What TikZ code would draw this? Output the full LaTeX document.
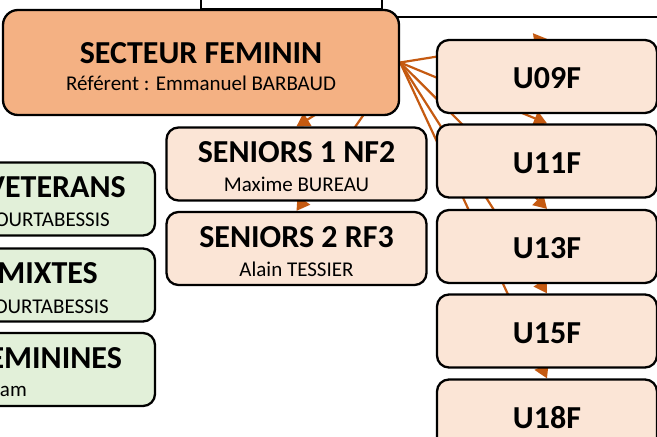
\documentclass[tikz,border=0pt]{standalone}
\usepackage{fontspec}
\setmainfont{Carlito}
\usetikzlibrary{arrows.meta,backgrounds}
\definecolor{secteurorange}{HTML}{F4B183}
\definecolor{equipeorange}{HTML}{FBE5D6}
\definecolor{loisirvert}{HTML}{E2F0D9}
\definecolor{lienorange}{HTML}{C55A11}
\newcommand{\titre}{\fontsize{32}{32}\selectfont\bfseries}
\newcommand{\nomref}{\fontsize{21}{29}\selectfont}
\newcommand{\cale}[1]{\rule{0pt}{#1}}

\begin{document}
\begin{tikzpicture}[x=1pt, y=-1pt,
  boite/.style={draw, line width=2.3pt, rounded corners=12pt, align=center, inner sep=0pt, font=\nomref},
  equipe/.style={boite, fill=equipeorange, minimum width=260pt, minimum height=73pt},
  categorie/.style={boite, fill=equipeorange, minimum width=220pt, minimum height=73pt, text height=25pt},
  loisir/.style={boite, fill=loisirvert, minimum width=300pt, minimum height=73pt},
  coupe/.style={anchor=base east, inner sep=0pt},
  haut/.style={draw, line width=1.3pt, fill=white},
  lien/.style={line width=2.2pt, lienorange, -{Triangle[length=13pt,width=15pt]}}]
  \useasboundingbox (0,0) rectangle (657,437);
  \clip (0,0) rectangle (657,437);
  % boxes above, cut off
  \draw[haut] (382,-30) rectangle (720,17);
  \draw[haut] (201,-30) rectangle (382,9);
  % secteur
  \node[boite, fill=secteurorange, rounded corners=15pt, minimum width=396pt, minimum height=105pt] (secteur) at (201,62.5)
    {{\titre\cale{29pt}SECTEUR FEMININ}\\[-2pt]Référent : Emmanuel BARBAUD};
  % seniors
  \node[equipe] (seniorsA) at (296.5,164) {{\titre\cale{27pt}SENIORS 1 NF2}\\Maxime BUREAU};
  \node[equipe] (seniorsB) at (296.5,248.5) {{\titre\cale{27pt}SENIORS 2 RF3}\\Alain TESSIER};
  % jeunes
  \node[categorie] (u09) at (547,76.5) {\titre U09F};
  \node[categorie] (u11) at (547,161) {\titre U11F};
  \node[categorie] (u13) at (547,246.5) {\titre U13F};
  \node[categorie] (u15) at (547,331) {\titre U15F};
  \node[categorie] (u18) at (547,416) {\titre U18F};
  % loisirs, cut off on the left
  \node[loisir] (veterans) at (5,199) {};
  \node[loisir] (mixtes) at (5,285) {};
  \node[loisir] (feminines) at (5,369.5) {};
  \node[coupe, font=\titre] (veteransT) at (126,197) {VETERANS};
  \node[coupe, font=\nomref] (veteransN) at (110,226) {OURTABESSIS};
  \node[coupe, font=\titre] (mixtesT) at (98,283) {MIXTES};
  \node[coupe, font=\nomref] (mixtesN) at (109,313) {OURTABESSIS};
  \node[coupe, font=\titre] (femininesT) at (122,368) {EMININES};
  \node[coupe, font=\nomref] (femininesN) at (27,396) {am};
  % liens
  \begin{pgfonlayer}{background}
    \foreach \cible in {seniorsA, seniorsB, u09, u11, u13, u15, u18}
      \draw[lien] (secteur.east) -- (\cible.north);
  \end{pgfonlayer}
\end{tikzpicture}
\end{document}
